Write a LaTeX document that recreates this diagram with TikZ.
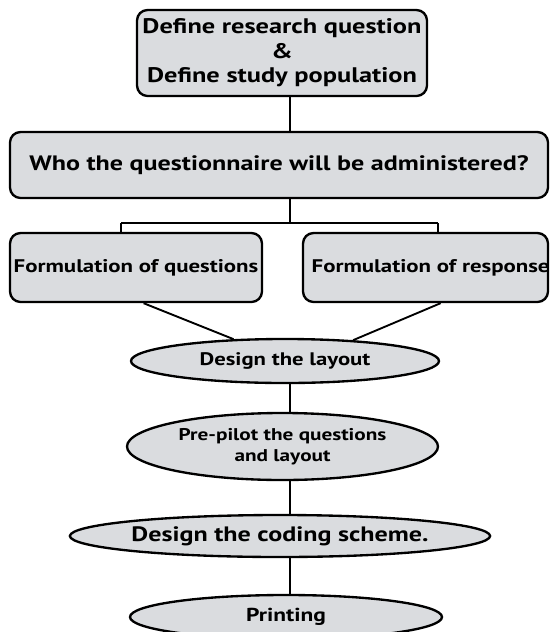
\documentclass[tikz,border=0pt]{standalone}
\usepackage{fontspec}
\setmainfont{PT Sans}[FakeStretch=1.25]
\usetikzlibrary{shapes.geometric}
\usetikzlibrary{positioning}

\definecolor{boxgray}{RGB}{218,220,223}

\tikzset{
 stepbox/.style={draw,line width=2pt,rounded corners=9pt,fill=boxgray,inner sep=0pt},
 stage/.style={draw,line width=2pt,ellipse,fill=boxgray,inner sep=0pt},
 link/.style={line width=1.6pt},
 txt/.style={font=\fontsize{#1}{#1}\selectfont\bfseries}
}

\begin{document}
\begin{tikzpicture}[x=0.03cm,y=-0.03cm]
 \clip (0,0) rectangle (549,632);

 \node[stepbox,txt=18,align=center,minimum width=8.7cm,minimum height=2.58cm,  name=define]    at (282,53)      {Define research question\\[3pt]\&\\[3pt]Define study population};
 \node[stepbox,txt=17.8,minimum width=16.14cm,minimum height=1.98cm,            name=who]       at (279,165)     {Who the questionnaire will be administered?};
 \node[stepbox,txt=15.6,minimum width=7.56cm,minimum height=2.07cm,             name=questions] at (136,267.5)   {Formulation of questions};
 \node[stepbox,txt=15.6,minimum width=7.35cm,minimum height=2.07cm,             name=responses] at (425.5,267.5) {\makebox[6.83cm][l]{Formulation of responses}};
 \node[stage,txt=15.5,minimum width=9.24cm,minimum height=1.32cm,               name=layout]    at (285,361)     {Design the layout};
 \node[stage,txt=14.5,align=center,minimum width=9.33cm,minimum height=2.01cm,  name=pilot]     at (282.5,446.5) {Pre-pilot the questions\\[3pt]and layout};
 \node[stage,txt=17.8,minimum width=9.48cm,minimum height=1.26cm,               name=coding]    at (280,536)     {Design the coding scheme.};
 \node[stage,txt=16,minimum width=9.36cm,minimum height=1.32cm,                 name=printing]  at (286,617)     {Printing};

 \coordinate (spine)  at (290,223);
 \coordinate (splitL) at (121,223);
 \coordinate (splitR) at (438,223);

 \draw[link] (define.south -| spine) -- (who.north -| spine);
 \draw[link] (who.south -| spine)    -- (spine);
 \draw[link] (splitL)                -- (splitR);
 \draw[link] (splitL)                -- (splitL |- questions.north);
 \draw[link] (splitR)                -- (splitR |- responses.north);
 \draw[link] (questions.-78)         -- (layout.157);
 \draw[link] (responses.-67)         -- (layout.17);
 \draw[link] (layout.south -| spine) -- (pilot.north -| spine);
 \draw[link] (pilot.south -| spine)  -- (coding.north -| spine);
 \draw[link] (coding.south -| spine) -- (printing.north -| spine);
\end{tikzpicture}
\end{document}
